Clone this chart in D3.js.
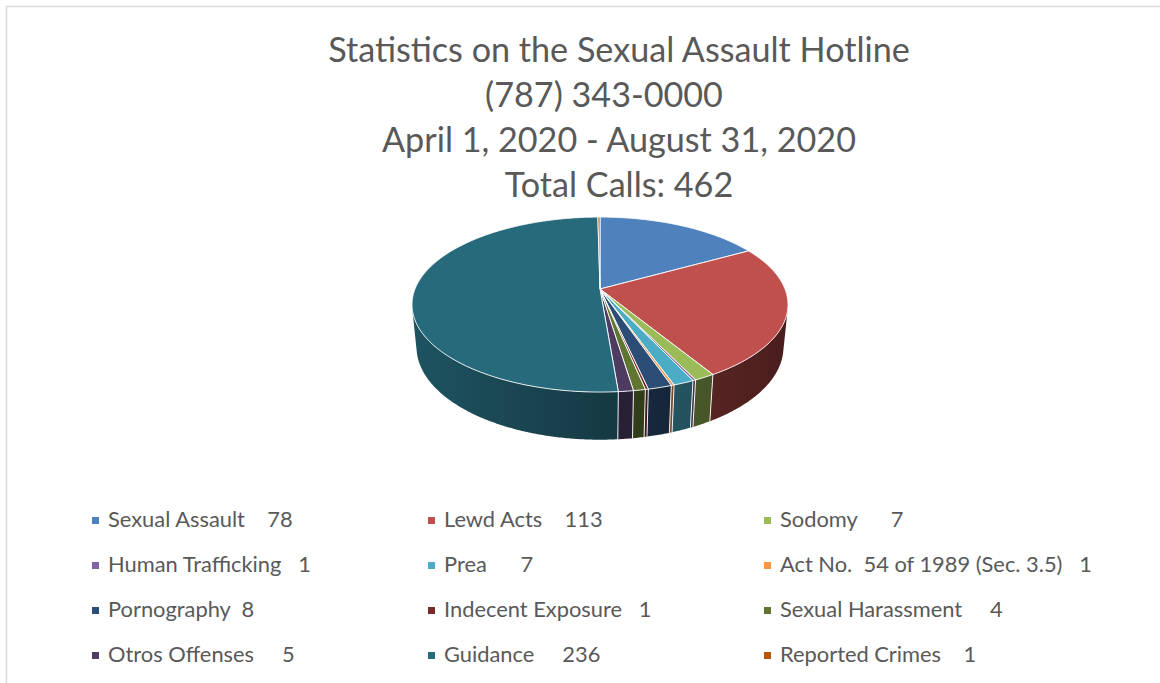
<!DOCTYPE html>
<html>
<head>
<meta charset="utf-8">
<script src="https://cdn.jsdelivr.net/npm/d3@7/dist/d3.min.js"></script>
<style>
  body { margin: 0; background: #fff; }
  text { font-family: Lato, "Open Sans", sans-serif; fill: #595959; white-space: pre; }
</style>
</head>
<body>
<svg id="chart" width="1160" height="683"></svg>
<script>
// data
let categories = ['Sexual Assault', 'Lewd Acts', 'Sodomy', 'Human Trafficking', 'Prea',
  'Act No.  54 of 1989 (Sec. 3.5)', 'Pornography', 'Indecent Exposure', 'Sexual Harassment',
  'Otros Offenses', 'Guidance', 'Reported Crimes'];
let calls = [78, 113, 7, 1, 7, 1, 8, 1, 4, 5, 236, 1];
// spaces between the name and the count in each legend label
let spaceCounts = [4, 4, 6, 3, 6, 3, 2, 3, 5, 5, 5, 4];
let colors = ['#4f81bd', '#c0504d', '#9bbb59', '#8064a2', '#4bacc6', '#f79646',
  '#2c4d75', '#772c2a', '#5f7530', '#4d3b62', '#276a7c', '#b65708'];
let titleLines = ['Statistics on the Sexual Assault Hotline', '(787) 343-0000',
  'April 1, 2020 - August 31, 2020', 'Total Calls: 462'];

let svg = d3.select('#chart');
let defs = svg.append('defs');

// frame of the chart area
svg.append('rect')
  .attr('x', 6.5).attr('y', 6.5)
  .attr('width', 1200).attr('height', 700)
  .attr('fill', 'none').attr('stroke', '#d9d9d9').attr('stroke-width', 1.5);

// title, sized so the first line matches the original width
let titleX = [619, 604, 619, 619];
let titleText = svg.append('g').selectAll('text')
  .data(titleLines)
  .enter()
  .append('text')
  .attr('x', (d, i) => titleX[i])
  .attr('y', (d, i) => 62 + i * 45)
  .attr('text-anchor', 'middle')
  .style('font-size', '36px')
  .text(d => d);
let w0 = titleText.node().getComputedTextLength();
titleText.style('font-size', (36 * 582 / w0) + 'px');

// 3D pie: perspective projection of a flat cylinder
let cx = 600, cy = 289, k = 185;
let sinE = 0.458, cosE = Math.sqrt(1 - sinE * sinE);
let dist = 5.0, thick = 0.26;

let project = (a, y) => {
  let X = Math.sin(a), Z = -Math.cos(a);
  let depth = Z * cosE + y * sinE;
  let p = 1 / (1 - depth / dist);
  return [cx + k * X * p, cy + k * (Z * sinE - y * cosE) * p];
};

let color = d3.scaleOrdinal().domain(categories).range(colors);
let arcs = d3.pie().sort(null).value(d => d)(calls);
let line = d3.line();

let arcPoints = (a0, a1, y) => {
  let n = Math.max(2, Math.ceil((a1 - a0) / (Math.PI / 360)) + 1);
  return d3.range(n).map(j => project(a0 + (a1 - a0) * j / (n - 1), y));
};

// side walls: only the part that faces the viewer, lit from the left
let limit = -1 / (dist * cosE);
let visFrom = Math.acos(limit), visTo = 2 * Math.PI - visFrom;
let walls = svg.append('g');

arcs.forEach((d, i) => {
  let a0 = Math.max(d.startAngle, visFrom), a1 = Math.min(d.endAngle, visTo);
  if (a1 <= a0) return;
  let base = d3.rgb(color(categories[i]));
  let shade = f => d3.rgb(base.r * f, base.g * f, base.b * f).formatHex();
  let grad = defs.append('linearGradient')
    .attr('id', 'wall' + i)
    .attr('gradientUnits', 'userSpaceOnUse')
    .attr('x1', cx - k).attr('x2', cx + k)
    .attr('y1', 0).attr('y2', 0);
  grad.append('stop').attr('offset', 0).attr('stop-color', shade(0.78));
  grad.append('stop').attr('offset', 0.5).attr('stop-color', shade(0.56));
  grad.append('stop').attr('offset', 1).attr('stop-color', shade(0.38));
  let pts = arcPoints(a0, a1, 0).concat(arcPoints(a0, a1, -thick).reverse());
  walls.append('path')
    .attr('d', line(pts) + 'Z')
    .attr('fill', 'url(#wall' + i + ')');
});

// white seams between slices on the wall
arcs.forEach(d => {
  if (d.startAngle > visFrom && d.startAngle < visTo) {
    walls.append('path')
      .attr('d', line([project(d.startAngle, 0), project(d.startAngle, -thick)]))
      .attr('stroke', '#fff')
      .attr('stroke-width', 0.9);
  }
});

// top faces
svg.append('g').selectAll('path')
  .data(arcs)
  .enter()
  .append('path')
  .attr('d', d => line([[cx, cy]].concat(arcPoints(d.startAngle, d.endAngle, 0))) + 'Z')
  .attr('fill', (d, i) => color(categories[i]))
  .attr('stroke', '#fff')
  .attr('stroke-width', 0.9)
  .attr('stroke-linejoin', 'round');

// legend, three columns
let legend = svg.append('g');
let items = legend.selectAll('g')
  .data(categories)
  .enter()
  .append('g')
  .attr('transform', (d, i) => 'translate(' + (92 + (i % 3) * 336) + ',' + (517 + Math.floor(i / 3) * 45) + ')');

items.append('rect')
  .attr('width', 7).attr('height', 7)
  .attr('fill', d => color(d));

let labels = items.append('text')
  .attr('x', 16)
  .attr('y', 10)
  .style('font-size', '20px')
  .text((d, i) => d + ' '.repeat(spaceCounts[i]) + calls[i]);

// fit legend font to the width of "Sexual Assault" in the original
let probe = legend.append('text').style('font-size', '20px').text('Sexual Assault');
let lw = probe.node().getComputedTextLength();
probe.remove();
labels.style('font-size', (20 * 137 / lw) + 'px');
</script>
</body>
</html>
